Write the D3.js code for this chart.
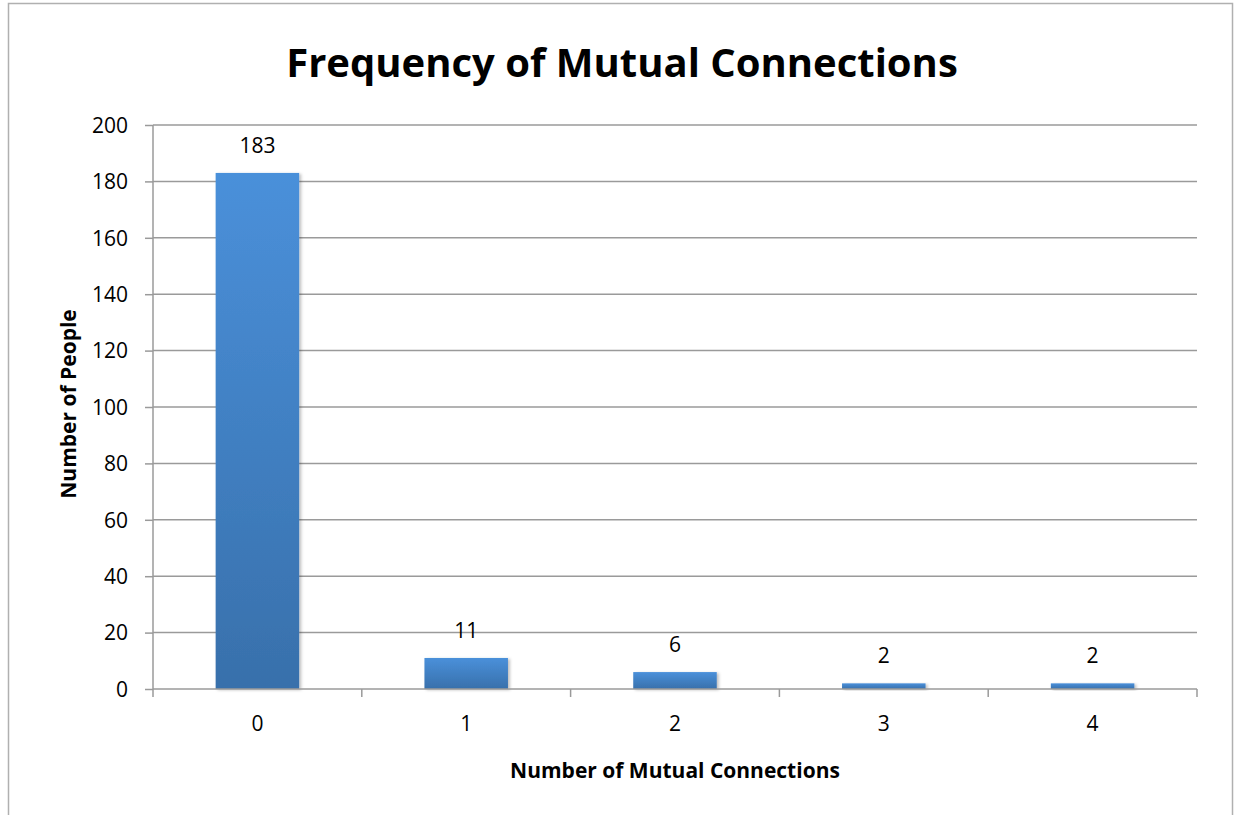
<!DOCTYPE html>
<html>
<head>
<meta charset="utf-8">
<script src="https://cdn.jsdelivr.net/npm/d3@7"></script>
<style>
  body { margin: 0; background: #fff; }
  text { font-family: "Open Sans", "Liberation Sans", sans-serif; fill: #000; }
</style>
</head>
<body>
<div id="chart"></div>
<script>
const categories = ['0', '1', '2', '3', '4'];
const values = [183, 11, 6, 2, 2];
const yTicks = [0, 20, 40, 60, 80, 100, 120, 140, 160, 180, 200];

const W = 1235, H = 815;
const margin = {top: 125, right: 38, bottom: 126, left: 153};
const width = W - margin.left - margin.right;
const height = H - margin.top - margin.bottom;

const svg = d3.select('#chart')
    .append('svg')
    .attr('width', W)
    .attr('height', H);

const defs = svg.append('defs');
const grad = defs.append('linearGradient')
    .attr('id', 'barGrad')
    .attr('x1', 0).attr('y1', 0).attr('x2', 0).attr('y2', 1);
grad.append('stop').attr('offset', '0%').attr('stop-color', '#4a90da');
grad.append('stop').attr('offset', '100%').attr('stop-color', '#3870ab');

const shadow = defs.append('filter').attr('id', 'shadow')
    .attr('x', '-10%').attr('y', '-10%').attr('width', '130%').attr('height', '130%');
shadow.append('feDropShadow')
    .attr('dx', 2).attr('dy', 1).attr('stdDeviation', 1.5)
    .attr('flood-color', '#000').attr('flood-opacity', 0.25);

// outer frame
svg.append('rect')
    .attr('x', 8.5).attr('y', 3.5)
    .attr('width', 1224).attr('height', 830)
    .attr('fill', 'none')
    .attr('stroke', '#b0b0b0')
    .attr('stroke-width', 1.5);

const g = svg.append('g').attr('transform', `translate(${margin.left},${margin.top})`);

const x = d3.scaleBand().domain(categories).range([0, width]).paddingInner(0.6).paddingOuter(0.3);
const xOuter = d3.scaleBand().domain(categories).range([0, width]);
const y = d3.scaleLinear().domain([0, 200]).range([height, 0]);

// gridlines
g.append('g').selectAll('line')
    .data(yTicks.filter(d => d > 0))
    .enter()
    .append('line')
    .attr('x1', 0).attr('x2', width)
    .attr('y1', d => y(d)).attr('y2', d => y(d))
    .attr('stroke', '#9a9a9a')
    .attr('stroke-width', 1.5);

// y axis
const yAxis = g.append('g')
    .call(d3.axisLeft(y).tickValues(yTicks).tickSize(8).tickPadding(17));
yAxis.select('.domain').attr('stroke', '#9a9a9a').attr('stroke-width', 1.5).attr('d', `M0,${height}V0`);
yAxis.selectAll('.tick line').attr('stroke', '#9a9a9a').attr('stroke-width', 1.5);
yAxis.selectAll('.tick text').style('font-size', '21px').attr('dy', '0.35em');

// bars
g.append('g').selectAll('rect')
    .data(values)
    .enter()
    .append('rect')
    .attr('x', (d, i) => x(categories[i]))
    .attr('y', d => y(d))
    .attr('width', x.bandwidth())
    .attr('height', d => height - y(d))
    .attr('fill', 'url(#barGrad)')
    .attr('filter', 'url(#shadow)');

// x axis
const xAxis = g.append('g')
    .attr('transform', `translate(0,${height})`)
    .call(d3.axisBottom(xOuter).tickSize(0).tickPadding(27));
xAxis.select('.domain').attr('stroke', '#9a9a9a').attr('stroke-width', 1.5).attr('d', `M0,0H${width}`);
xAxis.selectAll('.tick text').style('font-size', '21px');
g.append('g').selectAll('line')
    .data(categories.map((c, i) => i).concat([categories.length]))
    .enter()
    .append('line')
    .attr('x1', d => d * xOuter.step()).attr('x2', d => d * xOuter.step())
    .attr('y1', height).attr('y2', height + 8)
    .attr('stroke', '#9a9a9a')
    .attr('stroke-width', 1.5);

// value labels
g.append('g').selectAll('text')
    .data(values)
    .enter()
    .append('text')
    .attr('x', (d, i) => x(categories[i]) + x.bandwidth() / 2)
    .attr('y', d => y(d) - 20)
    .attr('text-anchor', 'middle')
    .style('font-size', '21px')
    .text(d => d);

// titles
svg.append('text')
    .attr('x', 622).attr('y', 77)
    .attr('text-anchor', 'middle')
    .style('font-size', '40px')
    .style('font-weight', 'bold')
    .text('Frequency of Mutual Connections');

svg.append('text')
    .attr('x', margin.left + width / 2).attr('y', 778)
    .attr('text-anchor', 'middle')
    .style('font-size', '21px')
    .style('font-weight', 'bold')
    .text('Number of Mutual Connections');

svg.append('text')
    .attr('transform', `translate(76,${margin.top + height / 2 - 3}) rotate(-90)`)
    .attr('text-anchor', 'middle')
    .style('font-size', '21px')
    .style('font-weight', 'bold')
    .text('Number of People');
</script>
</body>
</html>
